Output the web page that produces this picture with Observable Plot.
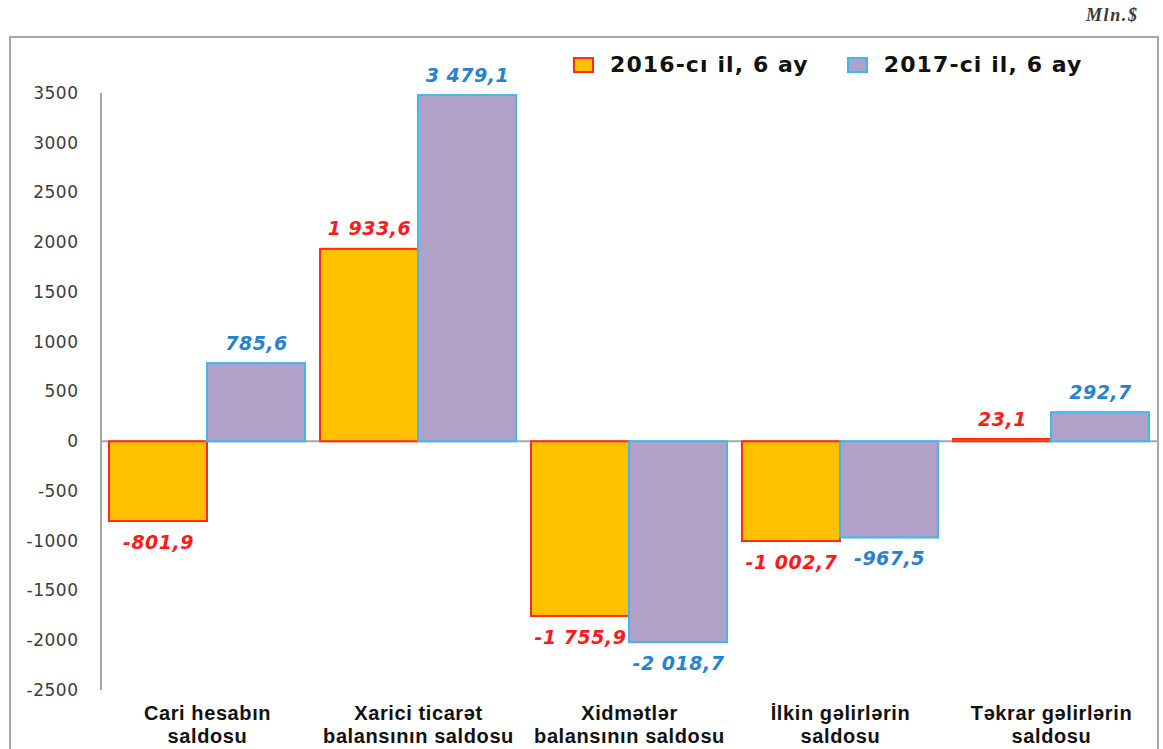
<!DOCTYPE html>
<html>
<head>
<meta charset="utf-8">
<script src="https://cdn.jsdelivr.net/npm/d3@7"></script>
<script src="https://cdn.jsdelivr.net/npm/@observablehq/plot@0.6"></script>
<style>
  html, body { margin: 0; padding: 0; background: #fff; overflow: hidden; }
  #wrap { position: relative; width: 1163px; height: 749px; overflow: hidden; background: #fff; }
  #frame { position: absolute; left: 9px; top: 36px; width: 1150px; height: 740px; border: 2px solid #a8a8a8; box-sizing: border-box; }
  #unit { position: absolute; left: 1086px; top: 5px; font-family: "Liberation Serif", serif; font-weight: bold; font-style: italic; font-size: 18px; letter-spacing: 1.6px; color: #3a3a3a; }
  #legend { position: absolute; left: 573px; top: 52px; display: flex; align-items: center; font-family: "DejaVu Sans", sans-serif; font-weight: bold; font-size: 22px; letter-spacing: 1.1px; color: #111; }
  #legend .item { display: flex; align-items: center; margin-right: 38px; }
  #legend .sw { width: 17px; height: 12px; border: 2px solid; margin-right: 16px; }
  #chart { position: absolute; left: 0; top: 0; }
</style>
</head>
<body>
<div id="wrap">
  <div id="frame"></div>
  <div id="unit">Mln.$</div>
  <div id="legend"></div>
  <div id="chart"></div>
</div>
<script>
// ---- data ----
const categories = [
  "Cari hesabın\nsaldosu",
  "Xarici ticarət\nbalansının saldosu",
  "Xidmətlər\nbalansının saldosu",
  "İlkin gəlirlərin\nsaldosu",
  "Təkrar gəlirlərin\nsaldosu"
];
const series = ["2016-cı il, 6 ay", "2017-ci il, 6 ay"];
const values2016 = [-801.9, 1933.6, -1755.9, -1002.7, 23.1];
const values2017 = [785.6, 3479.1, -2018.7, -967.5, 292.7];
const yTicks = [-2500, -2000, -1500, -1000, -500, 0, 500, 1000, 1500, 2000, 2500, 3000, 3500];
const unitLabel = "Mln.$";

// ---- styles ----
const fills = ["#FFC000", "#B1A0C7"];
const strokes = ["#FF2A1A", "#41B8EC"];
const labelColors = ["#FF1A1A", "#2482D2"];

const rows = categories.flatMap((c, i) => [
  {cat: c, series: series[0], s: 0, value: values2016[i]},
  {cat: c, series: series[1], s: 1, value: values2017[i]}
]);

const fmt = d3.formatLocale({decimal: ",", thousands: " ", grouping: [3], currency: ["", ""], minus: "-"}).format(",.1f");

document.getElementById("unit").textContent = unitLabel;
const legend = d3.select("#legend");
series.forEach((s, i) => {
  const it = legend.append("div").attr("class", "item");
  it.append("div").attr("class", "sw").style("background", fills[i]).style("border-color", strokes[i]);
  it.append("span").text(s);
});

const barMarks = [0, 1].map(k => Plot.barY(rows.filter(d => d.s === k), {
  fx: "cat", x: "series", y: "value",
  fill: fills[k], stroke: strokes[k], strokeWidth: 2
}));

const textMarks = [];
[0, 1].forEach(k => {
  [true, false].forEach(pos => {
    textMarks.push(Plot.text(rows.filter(d => d.s === k && (d.value >= 0) === pos), {
      fx: "cat", x: "series", y: "value",
      text: d => fmt(d.value),
      dy: pos ? -20 : 21,
      fill: labelColors[k],
      fontWeight: "bold", fontStyle: "italic", fontSize: 19,
      fontFamily: "DejaVu Sans"
    }));
  });
});

const catLabels = Plot.text(categories, {
  fx: d => d, text: d => d,
  frameAnchor: "bottom", lineAnchor: "top", dy: 13,
  lineHeight: 1.15,
  fontSize: 20, fontWeight: "bold", fontFamily: "Liberation Sans",
  fill: "#111"
});

const plot = Plot.plot({
  width: 1163, height: 749,
  marginLeft: 101, marginRight: 5, marginTop: 93, marginBottom: 59,
  style: {fontFamily: "DejaVu Sans", fontSize: "17px", color: "#3c3c3c", background: "transparent", overflow: "visible"},
  fx: {domain: categories, paddingInner: 0.07, paddingOuter: 0.033, axis: null, label: null},
  x: {domain: series, axis: null, padding: 0},
  y: {domain: [-2500, 3500], ticks: yTicks, tickFormat: d => String(d), tickSize: 0, tickPadding: 31, label: null},
  marks: [...barMarks, ...textMarks, catLabels]
});

document.getElementById("chart").appendChild(plot);

const svg = d3.select(plot);
// widen text slightly to match the reference's stretched lettering
svg.selectAll('[aria-label="y-axis tick label"] text, [aria-label="y-axis"] text').style("letter-spacing", "0.5px");
svg.selectAll('[aria-label="text"] text').each(function() {
  const el = d3.select(this);
  el.style("letter-spacing", el.attr("font-family") === "Liberation Sans" || (this.parentNode && d3.select(this.parentNode).attr("font-family") === "Liberation Sans") ? "0.6px" : "0.5px");
});

// continuous zero line and y axis line, from the plot's own y scale
const ys = plot.scale("y");
const g = svg.insert("g", "g");
g.append("line")
  .attr("x1", 101).attr("x2", 1158)
  .attr("y1", ys.apply(0)).attr("y2", ys.apply(0))
  .attr("stroke", "#a6a6a6").attr("stroke-width", 2);
g.append("line")
  .attr("x1", 101).attr("x2", 101)
  .attr("y1", ys.apply(3500)).attr("y2", ys.apply(-2500))
  .attr("stroke", "#a6a6a6").attr("stroke-width", 2);
</script>
</body>
</html>
